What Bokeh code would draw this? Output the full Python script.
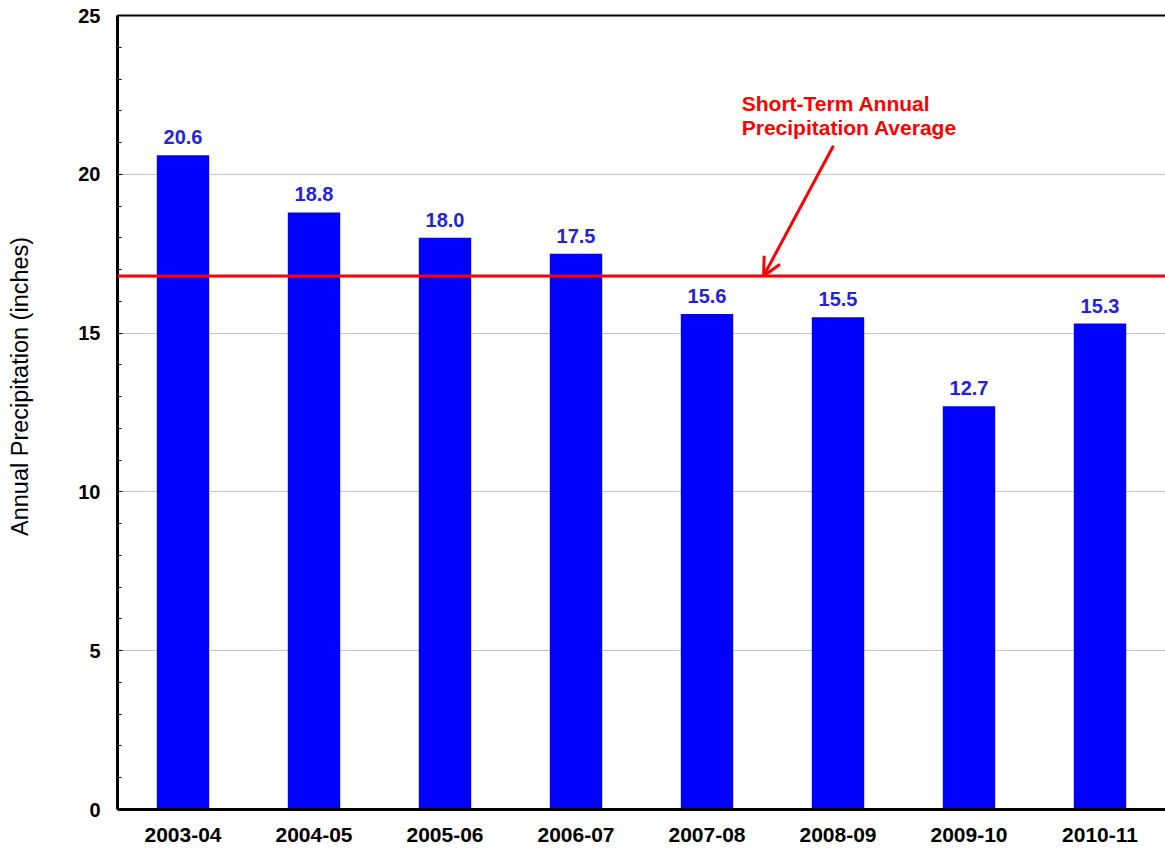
from bokeh.plotting import figure
from bokeh.core.properties import value
from bokeh.models import (ColumnDataSource, FactorRange, Range1d, Span, Arrow, OpenHead,
                          LabelSet, Label, CategoricalAxis, FixedTicker,
                          SingleIntervalTicker)
from bokeh.embed import file_html
from bokeh.resources import INLINE

# Annual precipitation by water year (inches)
seasons = ["2003-04", "2004-05", "2005-06", "2006-07", "2007-08", "2008-09", "2009-10", "2010-11"]
precip = [20.6, 18.8, 18.0, 17.5, 15.6, 15.5, 12.7, 15.3]
short_term_average = 16.8

FONT = "Liberation Sans"

src = ColumnDataSource(dict(season=seasons, precip=precip,
                            label=[f"{v:.1f}" for v in precip]))

p = figure(x_range=FactorRange(*seasons, range_padding=0), y_range=Range1d(0, 25),
           frame_width=1048, frame_height=794,
           min_border_left=117, min_border_right=0, min_border_top=15, min_border_bottom=40,
           output_backend="svg", toolbar_location=None, background_fill_color="white",
           border_fill_color="white")
p.outline_line_color = None

p.vbar(x="season", top="precip", width=0.4, source=src, color="#0000ff", line_color=None)

p.add_layout(LabelSet(x="season", y="precip", text="label", source=src, y_offset=11,
                      text_align="center", text_baseline="bottom",
                      text_font=value(FONT), text_font_size="20px", text_font_style="bold",
                      text_color="#2323dc"))

# average line and its callout
p.add_layout(Span(location=short_term_average, dimension="width",
                  line_color="#ff0000", line_width=3))
p.add_layout(Arrow(end=OpenHead(line_color="#ff0000", line_width=3, size=18),
                   x_start=5.465, y_start=20.9, x_end=4.932, y_end=short_term_average,
                   line_color="#ff0000", line_width=3))
for txt, yy in (("Short-Term Annual", 22.23), ("Precipitation Average", 21.47)):
    p.add_layout(Label(x=4.765, y=yy, text=txt, text_font=FONT, text_font_size="21px",
                       text_font_style="bold", text_color="#ff0000",
                       text_align="left", text_baseline="alphabetic"))

# axes
p.yaxis.ticker = SingleIntervalTicker(interval=5, num_minor_ticks=5)
p.yaxis.axis_line_width = 3
p.yaxis.axis_line_color = "black"
p.yaxis.major_tick_in = 5
p.yaxis.major_tick_out = 0
p.yaxis.minor_tick_in = 4
p.yaxis.minor_tick_out = 0
p.yaxis.major_tick_line_color = "black"
p.yaxis.minor_tick_line_color = "black"
p.yaxis.major_label_standoff = 17
p.yaxis.major_label_text_font = FONT
p.yaxis.major_label_text_font_size = "20px"
p.yaxis.major_label_text_font_style = "bold"
p.yaxis.major_label_text_color = "black"

# axis title; leading no-break spaces lift it a little above the axis middle
p.yaxis.axis_label = "\u00a0" * 8 + "Annual Precipitation (inches)"
p.yaxis.axis_label_text_font = FONT
p.yaxis.axis_label_text_font_size = "23.5px"
p.yaxis.axis_label_text_font_style = "normal"
p.yaxis.axis_label_text_color = "black"
p.yaxis.axis_label_standoff = 42

p.xaxis.axis_line_width = 3
p.xaxis.axis_line_color = "black"
p.xaxis.major_tick_line_color = None
p.xaxis.minor_tick_line_color = None
p.xaxis.major_label_standoff = 12
p.xaxis.major_label_text_font = FONT
p.xaxis.major_label_text_font_size = "21px"
p.xaxis.major_label_text_font_style = "bold"
p.xaxis.major_label_text_color = "black"

# top border: a bare axis line with no ticks
top = CategoricalAxis(ticker=FixedTicker(ticks=[]),
                      axis_line_width=2, axis_line_color="black",
                      major_tick_line_color=None, minor_tick_line_color=None)
p.add_layout(top, "above")

p.xgrid.grid_line_color = None
p.ygrid.grid_line_color = "#c4c4c4"
p.ygrid.grid_line_width = 1

open("out.html", "w").write(file_html(p, INLINE))
